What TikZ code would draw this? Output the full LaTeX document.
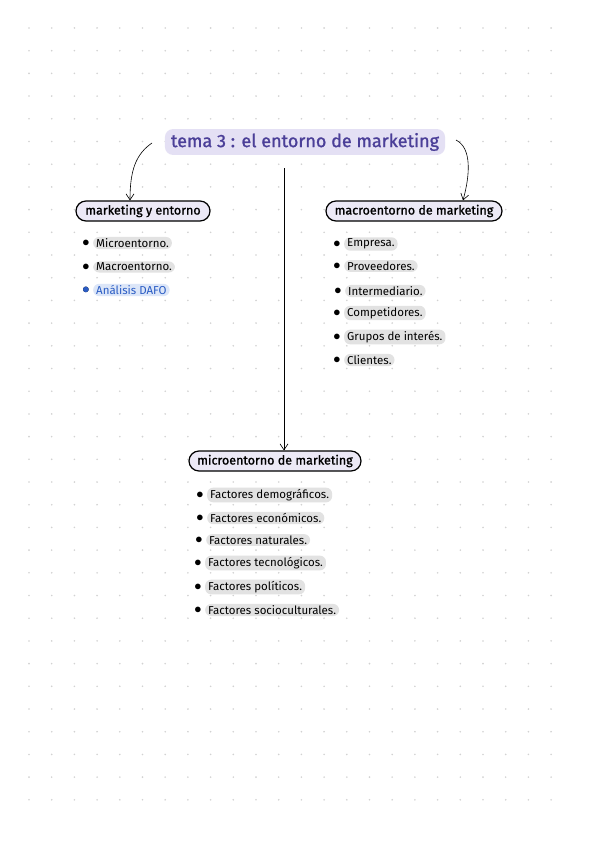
\documentclass[tikz,border=0pt]{standalone}
\usepackage{fontspec}
\setmainfont{Fira Sans}
\newfontfamily\heavyfont[FakeBold=1.2]{Fira Sans}
\usetikzlibrary{arrows.meta, positioning}

\definecolor{titleink}{HTML}{4B3F98}
\definecolor{titlehl}{HTML}{E4E0F4}
\definecolor{headfill}{HTML}{ECE9F6}
\definecolor{itemhl}{HTML}{E2E2E2}
\definecolor{dafoink}{HTML}{2A5CC4}
\definecolor{dafohl}{HTML}{DCE6F8}
\definecolor{griddot}{HTML}{D2D2D2}

\begin{document}
\begin{tikzpicture}[
		x=1pt, y=-1pt,
		title/.style={fill=titlehl, text=titleink, rounded corners=8pt, inner xsep=6pt, inner ysep=4pt, font=\heavyfont\fontsize{18}{20}\selectfont},
		head/.style={draw, very thick, fill=headfill, rounded corners=10pt, minimum height=20pt, inner sep=2pt, font=\heavyfont\fontsize{12.5}{14}\selectfont},
		item/.style={fill=itemhl, rounded corners=6pt, anchor=west, inner xsep=3pt, inner ysep=1.5pt, font=\fontsize{11.5}{13}\selectfont,
			label={[label distance=0pt]left:{\Large$\bullet$}}},
		link/.style={-{Straight Barb[length=6pt,width=8pt]}, semithick},
	]

	% -- page and dot grid --
	\useasboundingbox (0,0) rectangle (600,848);
	\fill[white] (0,0) rectangle (600,848);
	\foreach \i in {0,...,23} {
		\foreach \j in {0,...,34} {
			\fill[griddot] (29+22.7*\i, 28+22.7*\j) circle (0.9);
		}
	}

	% -- title --
	\node [title] (tema) at (305,142) {tema 3 : el entorno de marketing};

	% -- headers --
	\node [head, minimum width=134pt] (mye) at (143,211) {marketing y entorno};
	\node [head, minimum width=176pt] (macro) at (414,211) {macroentorno de marketing};
	\node [head, minimum width=172pt] (micro) at (275,461) {microentorno de marketing};

	% -- marketing y entorno --
	\node [item] (mye1) at (93,243) {Microentorno.};
	\node [item] (mye2) at (93,267) {Macroentorno.};
	\node [item, fill=dafohl, text=dafoink,
		label={[label distance=0pt, text=dafoink]left:{\Large$\bullet$}}] (mye3) at (93,290) {Análisis DAFO};

	% -- macroentorno --
	\node [item] (ma1) at (344,244) {Empresa.};
	\node [item] (ma2) at (344,266) {Proveedores.};
	\node [item] (ma3) at (345,291) {Intermediario.};
	\node [item] (ma4) at (344,313) {Competidores.};
	\node [item] (ma5) at (344,337) {Grupos de interés.};
	\node [item] (ma6) at (344,360) {Clientes.};

	% -- microentorno --
	\node [item] (mi1) at (207,495) {Factores demográficos.};
	\node [item] (mi2) at (207,518) {Factores económicos.};
	\node [item] (mi3) at (206,540) {Factores naturales.};
	\node [item] (mi4) at (205,563) {Factores tecnológicos.};
	\node [item] (mi5) at (205,587) {Factores políticos.};
	\node [item] (mi6) at (205,610) {Factores socioculturales.};

	% -- arrows --
	\coordinate (l0) at (152,143);
	\coordinate (r0) at (456,140);
	\coordinate (c0) at (284,168);
	\draw[link] (l0) .. controls (136,154) and (130,170) .. (mye.north -| 130,0);
	\draw[link] (r0) .. controls (472,148) and (470,175) .. (macro.north -| 463,0);
	\draw[link] (c0) -- (micro.north -| c0);
\end{tikzpicture}
\end{document}
